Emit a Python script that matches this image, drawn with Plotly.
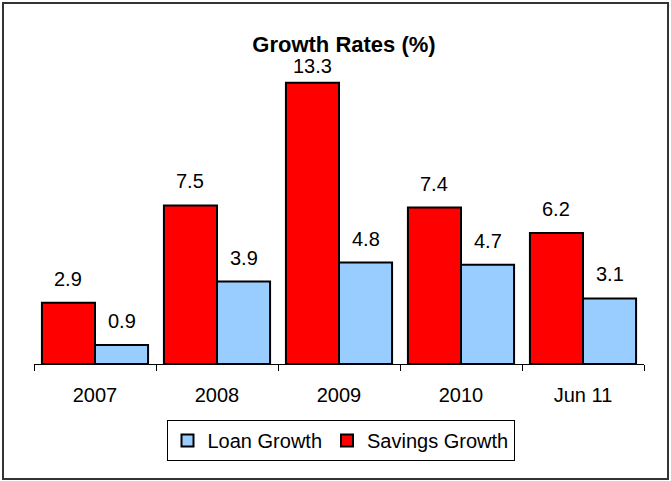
import plotly.graph_objects as go

categories = ["2007", "2008", "2009", "2010", "Jun 11"]
savings_growth = [2.9, 7.5, 13.3, 7.4, 6.2]
loan_growth = [0.9, 3.9, 4.8, 4.7, 3.1]

W, H = 671, 481
ML, MR, MT, MB = 34, 27, 68, 117
PW, PH = W - ML - MR, H - MT - MB
BARGAP = 0.13
FONT = "Liberation Sans, Arial, sans-serif"

def px_x(p):
    return (p - ML) / PW

def px_y(p):
    return (H - MB - p) / PH

fig = go.Figure()
fig.add_trace(go.Bar(
    name="Savings Growth", x=categories, y=savings_growth,
    marker=dict(color="#FF0000", line=dict(color="#000000", width=2)),
))
fig.add_trace(go.Bar(
    name="Loan Growth", x=categories, y=loan_growth,
    marker=dict(color="#99CCFF", line=dict(color="#000000", width=2)),
))

off = (1 - BARGAP) / 4
annotations = []
for series, sign in ((savings_growth, -1), (loan_growth, 1)):
    for i, v in enumerate(series):
        annotations.append(dict(
            x=i + sign * off, y=v, xref="x", yref="y",
            text=f"{v:.1f}", showarrow=False, yanchor="middle",
            yshift=24 if v < 13 else 17,
            font=dict(family=FONT, size=20, color="#000000"),
        ))

fig.update_layout(
    width=W, height=H,
    margin=dict(l=ML, r=MR, t=MT, b=MB, pad=0),
    paper_bgcolor="white", plot_bgcolor="white",
    barmode="group", bargap=BARGAP, bargroupgap=0,
    title=dict(text="<b>Growth Rates (%)</b>", x=344 / W, xanchor="center",
               y=1 - 44 / H, yanchor="middle",
               font=dict(family=FONT, size=22, color="#000000")),
    font=dict(family=FONT, color="#000000"),
    xaxis=dict(type="category", showline=True, linecolor="#000000", linewidth=1,
               ticks="outside", tickson="boundaries", ticklen=6, tickcolor="#000000",
               tickfont=dict(family=FONT, size=20, color="#000000"),
               ticklabelstandoff=13, showgrid=False, zeroline=False),
    yaxis=dict(visible=False, range=[0, 14], showgrid=False, zeroline=False),
    showlegend=True,
    legend=dict(orientation="h", traceorder="reversed",
                x=px_x(340.5), xanchor="center", y=px_y(420), yanchor="top",
                bordercolor="#000000", borderwidth=1, bgcolor="white",
                font=dict(family=FONT, size=20, color="#000000")),
    annotations=annotations,
    shapes=[dict(type="rect", xref="paper", yref="paper",
                 x0=px_x(3), x1=px_x(668), y0=px_y(479), y1=px_y(3),
                 line=dict(color="#333333", width=2), layer="below")],
)

fig.write_html("out.html", config={"displayModeBar": False},
               post_script="document.body.style.margin='0';document.body.style.overflow='hidden';")
